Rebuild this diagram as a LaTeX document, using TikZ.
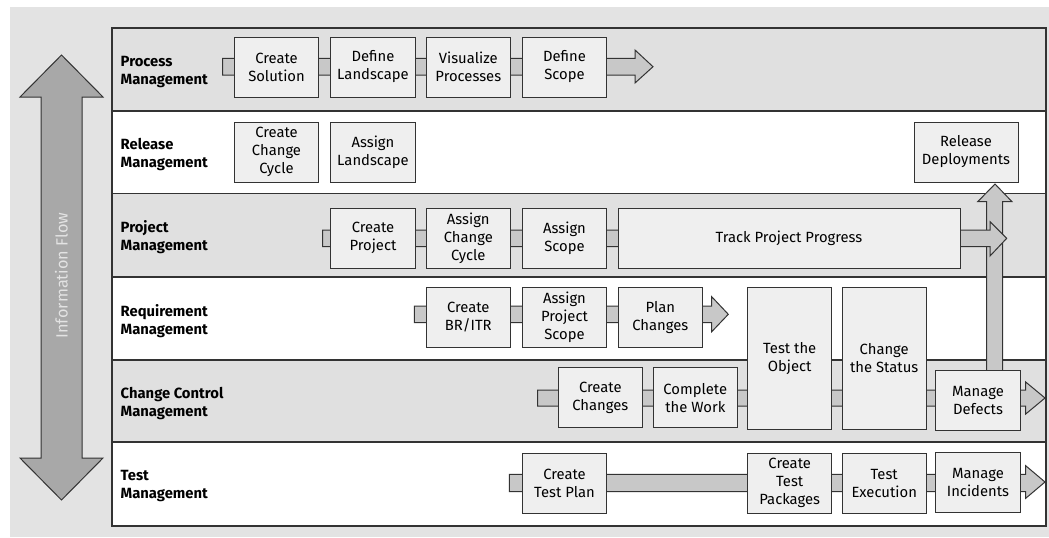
\documentclass[tikz,border=0pt]{standalone}
\usepackage{fontspec}
\setmainfont{Fira Sans}
\setsansfont{Fira Sans}
\definecolor{bg}{HTML}{E3E3E3}
\definecolor{lanegray}{HTML}{E0E0E0}
\definecolor{boxfill}{HTML}{EFEFEF}
\definecolor{bandfill}{HTML}{C8C8C8}
\definecolor{infofill}{HTML}{A8A8A8}
\definecolor{linecol}{HTML}{333333}
\begin{document}
\begin{tikzpicture}[x=0.75pt,y=-0.75pt,
  txt/.style={font=\fontsize{11.1}{13.5}\selectfont},
  box/.style={draw=linecol, fill=boxfill, line width=0.75pt, align=center, inner sep=0pt,
     minimum width=63.3pt, minimum height=45pt, txt},
  band/.style={draw=linecol, fill=bandfill, line width=0.75pt, line join=miter},
  lanebox/.style={draw=linecol, line width=0.9pt},
  lanelabel/.style={anchor=west, align=left, font=\bfseries\fontsize{11.1}{13.5}\selectfont}
]
\useasboundingbox (0,0) rectangle (1049,537);
\fill[white] (0,0) rectangle (1049,537);
\fill[bg] (10,7) rectangle (1049,537);

% lanes
\path[lanebox, fill=lanegray] (112,28) rectangle (1046,111);
\path[lanebox, fill=white] (112,111) rectangle (1046,193.5);
\path[lanebox, fill=lanegray] (112,193.5) rectangle (1046,277);
\path[lanebox, fill=white] (112,277) rectangle (1046,360);
\path[lanebox, fill=lanegray] (112,360) rectangle (1046,442);
\path[lanebox, fill=white] (112,442) rectangle (1046,526);

\node[lanelabel] (l1) at (116,72) {Process\\Management};
\node[lanelabel] (l2) at (116,154.5) {Release\\Management};
\node[lanelabel] (l3) at (116,237.5) {Project\\Management};
\node[lanelabel] (l4) at (116,321) {Requirement\\Management};
\node[lanelabel] (l5) at (116,403.5) {Change Control\\Management};
\node[lanelabel] (l6) at (116,486.5) {Test\\Management};

% information flow arrow
\draw[draw=linecol, fill=infofill, line width=0.75pt, line join=miter]
  (61.5,55) -- (103,97) -- (82,97) -- (82,458) -- (103,458) -- (61.5,500)
  -- (20,458) -- (41,458) -- (41,97) -- (20,97) -- cycle;
\node[rotate=90, text=bg, font=\fontsize{12.2}{14}\selectfont] (info) at (61.5,275.5) {Information Flow};

% bands
\draw[band] (222.7,58.3) -- (635,58.3) -- (635,50) -- (653,66.7) -- (635,83) -- (635,75) -- (222.7,75) -- cycle;
\draw[band] (414.3,306) -- (711.7,306) -- (711.7,296.7) -- (728.3,314.3) -- (711.7,331.7) -- (711.7,322.7) -- (414.3,322.7) -- cycle;
\draw[band] (537.7,390) -- (1025.7,390) -- (1025.7,382) -- (1045,398) -- (1025.7,414) -- (1025.7,406) -- (537.7,406) -- cycle;
\draw[band] (509.3,474.3) -- (1025.7,474.3) -- (1025.7,465.7) -- (1045,482) -- (1025.7,498.3) -- (1025.7,491.7) -- (509.3,491.7) -- cycle;
% upward arrow
\draw[band] (986.7,372) -- (986.7,201.7) -- (977.7,201.7) -- (995,184) -- (1012,201.7) -- (1002.7,201.7) -- (1002.7,372) -- cycle;
\draw[band] (322.7,230) -- (990,230) -- (990,221.7) -- (1006.7,238.3) -- (990,256) -- (990,246.7) -- (322.7,246.7) -- cycle;

% process management
\node[box] (cs) at (276.5,67) {Create\\Solution};
\node[box] (dl) at (373,67) {Define\\Landscape};
\node[box] (vp) at (468.3,67) {Visualize\\Processes};
\node[box] (ds) at (564.5,67) {Define\\Scope};
% release management
\node[box] (ccc) at (276.5,152) {Create\\Change\\Cycle};
\node[box] (al) at (373,152) {Assign\\Landscape};
\node[box, minimum width=78pt] (rd) at (966,152) {Release\\Deployments};
% project management
\node[box] (cp) at (373,238) {Create\\Project};
\node[box] (acc) at (468.3,238) {Assign\\Change\\Cycle};
\node[box] (asc) at (564.5,238) {Assign\\Scope};
\node[box, minimum width=256.5pt] (tpp) at (789,238) {Track Project Progress};
% requirement management
\node[box] (br) at (468.3,317.3) {Create\\BR/ITR};
\node[box] (aps) at (564.5,317.3) {Assign\\Project\\Scope};
\node[box] (pc) at (660.3,317.3) {Plan\\Changes};
\node[box, minimum height=106.3pt] (to) at (789.7,358.2) {Test the\\Object};
\node[box, minimum height=106.3pt] (cst) at (884.2,358.2) {Change\\the Status};
% change control
\node[box] (cc) at (600.3,397.8) {Create\\Changes};
\node[box] (cw) at (695.3,397.8) {Complete\\the Work};
\node[box] (md) at (978,400) {Manage\\Defects};
% test management
\node[box] (ctp) at (564.5,483) {Create\\Test Plan};
\node[box] (ctpk) at (789.7,483.3) {Create\\Test\\Packages};
\node[box] (te) at (884.2,483.3) {Test\\Execution};
\node[box] (mi) at (978,482.3) {Manage\\Incidents};
\end{tikzpicture}
\end{document}
